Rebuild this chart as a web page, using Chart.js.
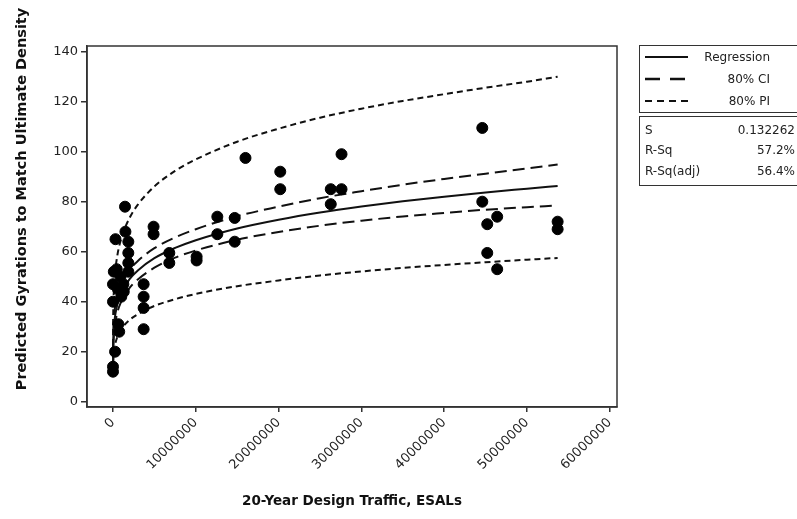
<!DOCTYPE html>
<html><head><meta charset="utf-8">
<script src="https://cdn.jsdelivr.net/npm/chart.js@4.4.0/dist/chart.umd.min.js"></script>
<style>
html,body{margin:0;padding:0;background:#fff;overflow:hidden;width:797px;height:519px;}
#wrap{position:relative;width:797px;height:519px;overflow:hidden;}
#c{position:absolute;left:0;top:0;}
.box{position:absolute;left:639px;width:180px;border:1.5px solid #333;box-sizing:border-box;}
.t{position:absolute;font-family:"DejaVu Sans",sans-serif;font-size:12px;color:#222;line-height:14px;white-space:nowrap;}
</style></head><body>
<div id="wrap">
<canvas id="c" width="797" height="519"></canvas>
<div class="box" style="top:45px;height:68px;"></div>
<div class="box" style="top:116px;height:70px;"></div>
<svg style="position:absolute;left:0;top:0;" width="797" height="519">
  <line x1="645" y1="57" x2="688" y2="57" stroke="#111" stroke-width="2"/>
  <line x1="645" y1="79" x2="688" y2="79" stroke="#111" stroke-width="2.4" stroke-dasharray="15,10"/>
  <line x1="645" y1="101" x2="688" y2="101" stroke="#111" stroke-width="2" stroke-dasharray="7,5"/>
</svg>
<div class="t" style="right:27px;top:50px;">Regression</div>
<div class="t" style="right:27px;top:72px;">80% CI</div>
<div class="t" style="right:27px;top:94px;">80% PI</div>
<div class="t" style="left:645px;top:123px;">S</div>
<div class="t" style="right:2px;top:123px;">0.132262</div>
<div class="t" style="left:645px;top:143px;">R-Sq</div>
<div class="t" style="right:2px;top:143px;">57.2%</div>
<div class="t" style="left:645px;top:164px;">R-Sq(adj)</div>
<div class="t" style="right:2px;top:164px;">56.4%</div>
</div>
<script>
// Observed data: 20-year design traffic (ESALs) vs predicted gyrations
const esals = [0, 0, 250000, 300000, 450000, 0, 0, 650000, 750000, 1000000, 1250000, 900000, 1300000,
  1450000, 1500000, 1850000, 1850000, 1850000, 1850000, 3700000, 3700000, 3700000, 3700000,
  4900000, 4900000, 6800000, 6800000, 10100000, 10100000, 12600000, 12600000, 14700000, 14700000,
  16000000, 20200000, 20200000, 26300000, 26300000, 27600000, 27600000,
  44600000, 44600000, 45200000, 45200000, 46400000, 46400000, 53700000, 53700000, 100000, 600000];
const gyrations = [12, 14, 20, 65, 53, 47, 40, 31, 28, 42, 47, 50, 44,
  78, 68, 64, 59.5, 55.5, 52, 47, 42, 37.5, 29,
  70, 67, 59.5, 55.5, 58, 56.5, 74, 67, 73.5, 64,
  97.5, 92, 85, 85, 79, 99, 85,
  109.5, 80, 71, 59.5, 74, 53, 72, 69, 52, 45];

// Fitted curves
const curveX = [5000, 10000, 20000, 50000, 100000, 200000, 500000, 1000000, 2000000, 3000000, 5000000,
  7500000, 10000000, 15000000, 20000000, 25000000, 30000000, 35000000, 40000000, 45000000, 50000000, 53700000];
const regression = [17.5, 19.7, 22.2, 26.0, 29.3, 33.0, 38.6, 43.5, 49.0, 52.5, 57.4, 61.5, 64.6, 69.3, 72.8, 75.7, 78.1, 80.2, 82.0, 83.7, 85.2, 86.3];
const ciUpper = [20.3, 22.7, 25.3, 29.4, 32.8, 36.6, 42.3, 47.2, 52.8, 56.3, 61.4, 65.7, 69.0, 74.2, 78.0, 81.4, 84.2, 86.8, 89.1, 91.2, 93.3, 94.9];
const ciLower = [15.1, 17.1, 19.5, 23.0, 26.2, 29.7, 35.3, 40.1, 45.5, 48.9, 53.6, 57.6, 60.5, 64.8, 67.9, 70.4, 72.4, 74.1, 75.5, 76.8, 77.8, 78.5];
const piUpper = [26.6, 29.9, 33.6, 39.3, 44.2, 49.7, 58.0, 65.3, 73.5, 78.8, 86.1, 92.3, 96.9, 104.0, 109.2, 113.6, 117.2, 120.3, 123.0, 125.6, 128.0, 130.0];
const piLower = [11.5, 13.0, 14.7, 17.2, 19.4, 21.9, 25.7, 29.0, 32.7, 35.0, 38.3, 41.0, 43.1, 46.2, 48.5, 50.5, 52.1, 53.5, 54.7, 55.8, 56.8, 57.5];

const xTicks = [0, 10000000, 20000000, 30000000, 40000000, 50000000, 60000000];
const xTickLabels = ['0', '10000000', '20000000', '30000000', '40000000', '50000000', '60000000'];
const yTicks = [0, 20, 40, 60, 80, 100, 120, 140];
const yTickLabels = ['0', '20', '40', '60', '80', '100', '120', '140'];

const xTitle = '20-Year Design Traffic, ESALs';
const yTitle = 'Predicted Gyrations to Match Ultimate Density';

const pts = esals.map((x, i) => ({x: x, y: gyrations[i]}));
const curve = arr => curveX.map((x, i) => ({x: x, y: arr[i]}));

const framePlugin = {
  id: 'frame',
  afterDraw(chart) {
    const {ctx, chartArea: a} = chart;
    ctx.save();
    ctx.strokeStyle = '#333';
    ctx.lineWidth = 1.5;
    ctx.strokeRect(a.left, a.top, a.right - a.left, a.bottom - a.top);
    ctx.fillStyle = '#111';
    ctx.font = 'bold 14.5px "DejaVu Sans"';
    ctx.textAlign = 'center';
    ctx.textBaseline = 'middle';
    ctx.translate(22, 199);
    ctx.rotate(-Math.PI / 2);
    ctx.fillText(yTitle, 0, 0);
    ctx.restore();
  }
};

const lineDs = (data, dash, width) => ({
  data: data, showLine: true, borderColor: '#111', borderWidth: width, borderDash: dash,
  pointRadius: 0, pointHoverRadius: 0, fill: false, cubicInterpolationMode: 'monotone'
});

new Chart(document.getElementById('c'), {
  type: 'scatter',
  data: {
    datasets: [
      {data: pts, pointRadius: 5.5, pointBackgroundColor: '#000', pointBorderColor: '#000', pointBorderWidth: 1, showLine: false},
      lineDs(curve(regression), [], 2),
      lineDs(curve(ciUpper), [12, 6], 2),
      lineDs(curve(ciLower), [12, 6], 2),
      lineDs(curve(piUpper), [6, 4], 2),
      lineDs(curve(piLower), [6, 4], 2)
    ]
  },
  options: {
    responsive: false,
    animation: false,
    layout: {padding: {top: 46, right: 180, left: 0, bottom: 0}},
    plugins: {legend: {display: false}, tooltip: {enabled: false}},
    scales: {
      x: {
        type: 'linear', min: -3140000, max: 60870000,
        afterFit: s => { s.height = 112; },
        afterBuildTicks: s => { s.ticks = xTicks.map(v => ({value: v})); },
        grid: {drawOnChartArea: false, color: '#333', tickLength: 5, lineWidth: 1.5},
        border: {display: true, color: '#333', width: 1.5},
        ticks: {autoSkip: false, minRotation: 45, maxRotation: 45, padding: 3, color: '#222',
          font: {family: 'DejaVu Sans', size: 13},
          callback: (v, i) => xTickLabels[i]},
        title: {display: true, text: xTitle, color: '#111', font: {family: 'DejaVu Sans', size: 13.5, weight: 'bold'}, padding: {top: 4, bottom: 9}}
      },
      y: {
        type: 'linear', min: -2.12, max: 142.28,
        afterFit: s => { s.width = 87; },
        afterBuildTicks: s => { s.ticks = yTicks.map(v => ({value: v})); },
        grid: {drawOnChartArea: false, color: '#333', tickLength: 6, lineWidth: 1.5},
        border: {display: true, color: '#333', width: 1.5},
        ticks: {padding: 3, color: '#222', font: {family: 'DejaVu Sans', size: 13},
          callback: (v, i) => yTickLabels[i]}
      }
    }
  },
  plugins: [framePlugin]
});
</script>
</body></html>
